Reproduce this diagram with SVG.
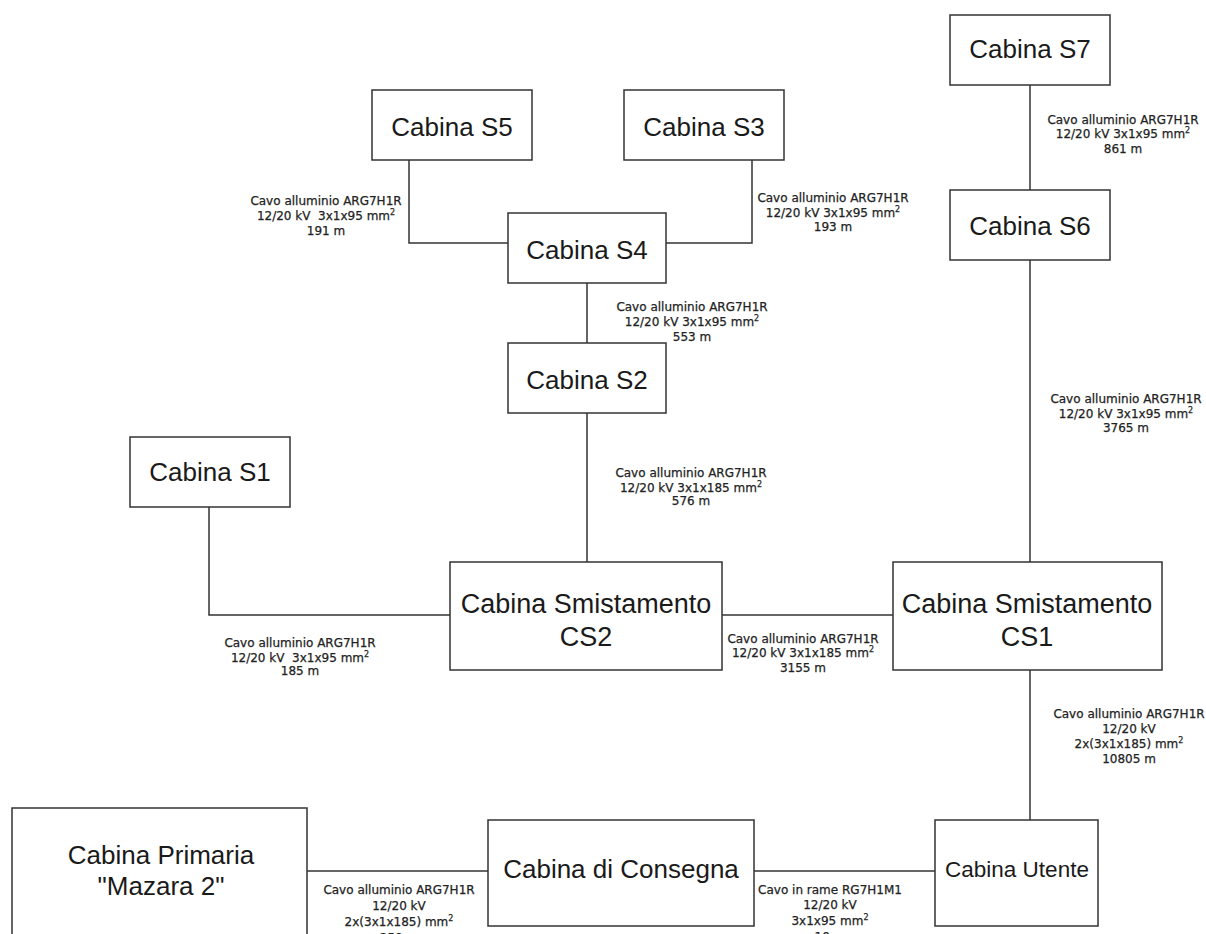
<svg xmlns="http://www.w3.org/2000/svg" width="1206" height="934" viewBox="0 0 1206 934">
<style>
.box{fill:#fff;stroke:#333;stroke-width:1.5}
.bt{font-family:"Liberation Sans",Arial,sans-serif;font-size:26px;fill:#1a1a1a;text-anchor:middle}
.lb{font-family:"DejaVu Sans",Verdana,sans-serif;font-size:12px;fill:#222;stroke:#222;stroke-width:0.25;text-anchor:middle}
.sup{font-size:8px}
.ln{fill:none;stroke:#333;stroke-width:1.5}
</style>
<rect width="1206" height="934" fill="#fff"/>
<g id="connectors">
<path class="ln" d="M1030 85V190"/>
<path class="ln" d="M409 160V243H508"/>
<path class="ln" d="M752 160V243H666"/>
<path class="ln" d="M587 283V343"/>
<path class="ln" d="M587 413V562"/>
<path class="ln" d="M209 507V615H450"/>
<path class="ln" d="M722 615H893"/>
<path class="ln" d="M1030 260V562"/>
<path class="ln" d="M1030 670V820"/>
<path class="ln" d="M307 871H488"/>
<path class="ln" d="M754 871H935"/>
</g>
<g id="labels">
<text class="lb" x="326" y="205"><tspan x="326">Cavo alluminio ARG7H1R</tspan><tspan x="326" dy="15">12/20 kV&#160; 3x1x95 mm<tspan class="sup" dy="-5">2</tspan></tspan><tspan x="326" dy="20">191 m</tspan></text>
<text class="lb" x="833" y="202"><tspan x="833">Cavo alluminio ARG7H1R</tspan><tspan x="833" dy="15">12/20 kV 3x1x95 mm<tspan class="sup" dy="-5">2</tspan></tspan><tspan x="833" dy="19">193 m</tspan></text>
<text class="lb" x="692" y="311"><tspan x="692">Cavo alluminio ARG7H1R</tspan><tspan x="692" dy="15">12/20 kV 3x1x95 mm<tspan class="sup" dy="-5">2</tspan></tspan><tspan x="692" dy="20">553 m</tspan></text>
<text class="lb" x="1123" y="124"><tspan x="1123">Cavo alluminio ARG7H1R</tspan><tspan x="1123" dy="14">12/20 kV 3x1x95 mm<tspan class="sup" dy="-5">2</tspan></tspan><tspan x="1123" dy="20">861 m</tspan></text>
<text class="lb" x="1126" y="403"><tspan x="1126">Cavo alluminio ARG7H1R</tspan><tspan x="1126" dy="15">12/20 kV 3x1x95 mm<tspan class="sup" dy="-5">2</tspan></tspan><tspan x="1126" dy="19">3765 m</tspan></text>
<text class="lb" x="691" y="477"><tspan x="691">Cavo alluminio ARG7H1R</tspan><tspan x="691" dy="15">12/20 kV 3x1x185 mm<tspan class="sup" dy="-5">2</tspan></tspan><tspan x="691" dy="18">576 m</tspan></text>
<text class="lb" x="300" y="647"><tspan x="300">Cavo alluminio ARG7H1R</tspan><tspan x="300" dy="15">12/20 kV&#160; 3x1x95 mm<tspan class="sup" dy="-5">2</tspan></tspan><tspan x="300" dy="18">185 m</tspan></text>
<text class="lb" x="803" y="643"><tspan x="803">Cavo alluminio ARG7H1R</tspan><tspan x="803" dy="14">12/20 kV 3x1x185 mm<tspan class="sup" dy="-5">2</tspan></tspan><tspan x="803" dy="20">3155 m</tspan></text>
<text class="lb" x="1129" y="718"><tspan x="1129">Cavo alluminio ARG7H1R</tspan><tspan x="1129" dy="15">12/20 kV</tspan><tspan x="1129" dy="15">2x(3x1x185) mm<tspan class="sup" dy="-5">2</tspan></tspan><tspan x="1129" dy="20">10805 m</tspan></text>
<text class="lb" x="399" y="894"><tspan x="399">Cavo alluminio ARG7H1R</tspan><tspan x="399" dy="16">12/20 kV</tspan><tspan x="399" dy="16">2x(3x1x185) mm<tspan class="sup" dy="-5">2</tspan></tspan><tspan x="399" dy="21">250 m</tspan></text>
<text class="lb" x="830" y="894"><tspan x="830">Cavo in rame RG7H1M1</tspan><tspan x="830" dy="15">12/20 kV</tspan><tspan x="830" dy="16">3x1x95 mm<tspan class="sup" dy="-5">2</tspan></tspan><tspan x="830" dy="21">10 m</tspan></text>
</g>
<g id="S7"><rect class="box" x="950" y="15" width="160" height="70"/><text class="bt" x="1030" y="58">Cabina S7</text></g>
<g id="S6"><rect class="box" x="950" y="190" width="160" height="70"/><text class="bt" x="1030" y="235">Cabina S6</text></g>
<g id="S5"><rect class="box" x="372" y="90" width="160" height="70"/><text class="bt" x="452" y="136">Cabina S5</text></g>
<g id="S3"><rect class="box" x="624" y="90" width="160" height="70"/><text class="bt" x="704" y="136">Cabina S3</text></g>
<g id="S4"><rect class="box" x="508" y="213" width="158" height="70"/><text class="bt" x="587" y="259">Cabina S4</text></g>
<g id="S2"><rect class="box" x="508" y="343" width="158" height="70"/><text class="bt" x="587" y="389">Cabina S2</text></g>
<g id="S1"><rect class="box" x="130" y="437" width="160" height="70"/><text class="bt" x="210" y="481">Cabina S1</text></g>
<g id="CS2"><rect class="box" x="450" y="562" width="272" height="108"/><text class="bt" x="586" y="613" style="font-size:27px">Cabina Smistamento</text><text class="bt" x="586" y="646" style="font-size:27px">CS2</text></g>
<g id="CS1"><rect class="box" x="893" y="562" width="269" height="108"/><text class="bt" x="1027" y="613" style="font-size:27px">Cabina Smistamento</text><text class="bt" x="1027" y="646" style="font-size:27px">CS1</text></g>
<g id="Primaria"><rect class="box" x="12" y="808" width="295" height="140"/><text class="bt" x="161" y="864">Cabina Primaria</text><text class="bt" x="161" y="895">"Mazara 2"</text></g>
<g id="Consegna"><rect class="box" x="488" y="820" width="266" height="106"/><text class="bt" x="621" y="878">Cabina di Consegna</text></g>
<g id="Utente"><rect class="box" x="935" y="820" width="163" height="106"/><text class="bt" x="1017" y="877" style="font-size:22.5px">Cabina Utente</text></g>
</svg>
